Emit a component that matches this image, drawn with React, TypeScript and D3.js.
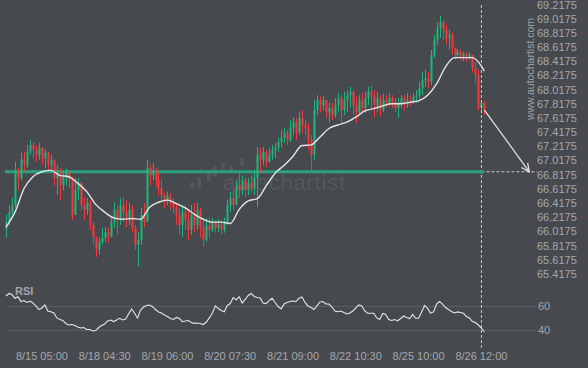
import React from 'react';
import * as d3 from 'd3';

const W = 588;
const H = 368;

const firstOpen = 66.05;

const closes = [
  66.15, 66.29, 66.39, 66.88, 66.77, 67.03, 66.96, 67.14, 67.24, 67.17,
  67.10, 67.20, 67.05, 67.13, 66.96, 67.03, 66.77, 66.88, 66.67, 66.77,
  66.86, 66.74, 66.25, 66.60, 66.70, 66.39, 66.32, 66.42, 66.11, 65.93,
  65.76, 65.87, 65.93, 66.01, 65.95, 66.15, 66.32, 66.18, 66.39, 66.29,
  66.21, 66.32, 66.07, 65.83, 65.90, 66.25, 66.15, 66.91, 66.81, 66.88,
  66.74, 66.63, 66.53, 66.46, 66.52, 66.42, 66.35, 66.25, 66.11, 66.29,
  66.18, 66.04, 66.25, 66.11, 66.32, 66.07, 65.90, 66.11, 66.04, 66.15,
  66.07, 66.12, 66.04, 66.15, 66.39, 66.49, 66.39, 66.67, 66.60, 66.74,
  66.60, 66.70, 66.63, 66.77, 67.10, 67.03, 67.14, 67.00, 67.10, 67.17,
  67.20, 67.28, 67.34, 67.41, 67.31, 67.48, 67.56, 67.42, 67.62, 67.52,
  67.48, 67.31, 67.10, 67.73, 67.87, 67.80, 67.87, 67.70, 67.76, 67.66,
  67.80, 67.90, 67.73, 67.87, 67.94, 67.99, 67.80, 67.70, 67.87, 67.76,
  67.90, 67.99, 67.94, 67.80, 67.90, 67.73, 67.87, 67.83, 67.90, 67.85,
  67.76, 67.83, 67.90, 67.82, 67.87, 67.85, 67.92, 67.94, 68.04, 68.16,
  68.18, 68.13, 68.51, 68.72, 68.89, 68.97, 68.86, 68.75, 68.79, 68.61,
  68.51, 68.55, 68.49, 68.52, 68.48, 68.51, 68.32, 68.23, 67.76, 67.83, 67.73,
];

const highs = [
  66.26, 66.39, 66.49, 67.00, 66.91, 67.13, 67.14, 67.24, 67.31, 67.28,
  67.24, 67.27, 67.17, 67.17, 67.14, 67.10, 67.03, 66.96, 66.91, 66.88,
  66.91, 66.88, 66.79, 66.77, 66.77, 66.72, 66.50, 66.49, 66.46, 66.15,
  65.95, 65.93, 66.07, 66.08, 66.07, 66.21, 66.43, 66.39, 66.49, 66.50,
  66.46, 66.42, 66.39, 66.11, 66.01, 66.35, 66.42, 67.03, 66.96, 66.98,
  66.91, 66.84, 66.74, 66.56, 66.58, 66.56, 66.49, 66.42, 66.35, 66.39,
  66.39, 66.32, 66.39, 66.42, 66.42, 66.35, 66.18, 66.21, 66.22, 66.21,
  66.18, 66.19, 66.18, 66.21, 66.46, 66.58, 66.60, 66.74, 66.84, 66.81,
  66.77, 66.77, 66.81, 66.88, 67.21, 67.20, 67.21, 67.17, 67.20, 67.24,
  67.27, 67.34, 67.45, 67.48, 67.45, 67.59, 67.63, 67.62, 67.70, 67.73,
  67.59, 67.55, 67.38, 67.87, 67.94, 67.92, 67.93, 67.87, 67.83, 67.83,
  67.90, 67.97, 67.94, 67.99, 68.01, 68.06, 68.01, 67.92, 67.94, 67.97,
  67.99, 68.06, 68.08, 68.01, 67.99, 67.94, 67.96, 67.94, 67.97, 67.94,
  67.90, 67.90, 67.94, 67.94, 67.97, 67.94, 67.97, 68.01, 68.13, 68.27,
  68.30, 68.27, 68.58, 68.79, 68.97, 69.06, 69.00, 68.93, 68.86, 68.82,
  68.61, 68.59, 68.58, 68.55, 68.55, 68.55, 68.51, 68.41, 68.30, 67.85, 67.85,
];

const lows = [
  65.93, 66.10, 66.25, 66.35, 66.60, 66.74, 66.86, 66.91, 67.10, 67.05,
  67.00, 67.03, 66.96, 66.91, 66.88, 66.86, 66.67, 66.53, 66.46, 66.60,
  66.67, 66.63, 66.18, 66.36, 66.46, 66.32, 66.18, 66.25, 66.04, 65.83,
  65.66, 65.69, 65.83, 65.87, 65.86, 65.93, 66.07, 65.97, 66.11, 66.15,
  66.08, 66.11, 66.00, 65.76, 65.52, 65.83, 66.08, 66.15, 66.67, 66.74,
  66.65, 66.53, 66.46, 66.35, 66.39, 66.32, 66.28, 66.11, 65.97, 65.94,
  66.04, 65.90, 65.97, 66.01, 66.04, 65.93, 65.80, 65.87, 65.93, 66.01,
  66.00, 66.01, 65.98, 66.00, 66.11, 66.29, 66.32, 66.39, 66.49, 66.53,
  66.50, 66.53, 66.56, 66.53, 66.36, 66.84, 66.96, 66.93, 67.00, 67.03,
  67.05, 67.14, 67.21, 67.27, 67.24, 67.28, 67.38, 67.31, 67.38, 67.41,
  67.38, 67.17, 66.87, 67.03, 67.66, 67.70, 67.73, 67.62, 67.55, 67.59,
  67.62, 67.70, 67.55, 67.66, 67.70, 67.76, 67.66, 67.55, 67.66, 67.69,
  67.69, 67.80, 67.76, 67.63, 67.70, 67.65, 67.70, 67.77, 67.79, 67.76,
  67.70, 67.62, 67.76, 67.73, 67.76, 67.79, 67.82, 67.83, 67.87, 67.94,
  68.06, 68.04, 68.08, 68.47, 68.65, 68.75, 68.72, 68.65, 68.58, 68.51,
  68.44, 68.47, 68.44, 68.42, 68.41, 68.44, 68.27, 68.11, 67.73, 67.72, 67.66,
];

const maIdx = [
  0, 3, 6, 9, 12, 15, 18, 21, 24, 27, 30, 33, 36, 39, 42, 45, 48, 51, 54, 57,
  60, 63, 66, 69, 72, 75, 78, 81, 84, 87, 90, 93, 96, 99, 102, 105, 108, 111,
  114, 117, 120, 123, 126, 129, 132, 135, 138, 141, 144, 147, 150, 153, 156, 159, 160,
];
const maVals = [
  66.08, 66.29, 66.62, 66.79, 66.86, 66.88, 66.81, 66.79, 66.70, 66.58,
  66.40, 66.29, 66.21, 66.19, 66.20, 66.19, 66.36, 66.43, 66.46, 66.41,
  66.35, 66.26, 66.19, 66.15, 66.15, 66.13, 66.33, 66.45, 66.48, 66.66,
  66.84, 66.95, 67.08, 67.23, 67.24, 67.35, 67.47, 67.52, 67.56, 67.63,
  67.72, 67.75, 67.79, 67.82, 67.82, 67.84, 67.86, 67.94, 68.10, 68.34,
  68.47, 68.47, 68.47, 68.35, 68.28,
];

const rsiVals = [
  68.6, 70.7, 69.8, 66.7, 68.0, 64.0, 64.8, 63.2, 64.4, 62.8,
  60.3, 57.3, 58.6, 61.1, 56.1, 55.5, 54.4, 50.3, 49.0, 48.2,
  45.7, 44.4, 44.8, 44.0, 42.8, 41.9, 42.3, 40.7, 40.7, 39.4,
  39.8, 42.3, 44.0, 45.3, 47.8, 48.6, 47.3, 48.6, 50.0, 48.6,
  49.4, 53.6, 57.8, 54.2, 50.3, 56.9, 59.4, 60.7, 61.1, 59.7,
  57.3, 55.3, 54.4, 52.8, 51.5, 49.8, 49.0, 50.7, 49.8, 47.2,
  47.8, 48.2, 46.5, 45.8, 46.1, 45.7, 44.8, 46.9, 50.3, 54.2,
  60.3, 58.2, 56.5, 55.5, 60.7, 62.3, 67.3, 65.3, 68.0, 62.8,
  65.7, 69.0, 70.7, 68.2, 67.3, 66.9, 62.8, 62.3, 64.8, 66.7,
  63.2, 59.8, 57.8, 61.9, 63.2, 64.0, 64.4, 64.0, 66.7, 67.8,
  63.2, 60.3, 59.0, 57.3, 60.3, 63.6, 64.0, 61.9, 61.9, 59.4,
  56.1, 55.5, 56.1, 54.8, 53.6, 54.4, 56.1, 58.6, 61.1, 60.3,
  56.1, 54.2, 54.2, 54.2, 50.3, 49.0, 54.0, 53.2, 49.0, 48.2,
  49.0, 47.8, 49.8, 51.9, 50.7, 49.8, 53.2, 50.0, 50.0, 55.3,
  60.7, 58.2, 54.4, 55.3, 61.9, 64.0, 61.9, 59.0, 57.3, 55.7,
  54.4, 55.3, 54.8, 54.2, 51.5, 50.3, 47.3, 46.5, 44.4, 41.9, 38.6,
];

const xTickIdx = [12, 33, 54, 75, 96, 117, 138, 159];
const xTickLabels = [
  '8/15 05:00', '8/18 04:30', '8/19 06:00', '8/20 07:30',
  '8/21 09:00', '8/22 10:30', '8/25 10:00', '8/26 12:00',
];
const yTicks = [
  69.2175, 69.0175, 68.8175, 68.6175, 68.4175, 68.2175, 68.0175, 67.8175,
  67.6175, 67.4175, 67.2175, 67.0175, 66.8175, 66.6175, 66.4175, 66.2175,
  66.0175, 65.8175, 65.6175, 65.4175,
];
const rsiTicks = [60, 40];

const level = 66.86;
const signalIdx = 159;
const forecastIdx = 175;

const BG = '#46494e';
const UP = '#1fb67c';
const DOWN = '#f5383c';
const TXT = '#a5a8ac';
const FONT = '"Liberation Sans", Arial, sans-serif';

export default function App() {
  const n = closes.length;
  const x = d3.scaleLinear().domain([0, n - 1]).range([6, 6 + (n - 1) * 2.99]);
  const y = d3.scaleLinear().domain([65.4175, 69.2175]).range([274, 4.7]);
  const yr = d3.scaleLinear().domain([40, 60]).range([330.3, 306.3]);

  const candles = closes.map((c, i) => {
    const o = i === 0 ? firstOpen : closes[i - 1];
    const h = Math.max(highs[i], o, c);
    const l = Math.min(lows[i], o, c);
    return { i, o, c, h, l, up: c >= o };
  });

  const maLine = d3
    .line<number>()
    .x((_, k) => x(maIdx[k]))
    .y((v) => y(v))
    .curve(d3.curveMonotoneX)(maVals) as string;

  const rsiLine = d3
    .line<number>()
    .x((_, k) => x(k))
    .y((v) => yr(v))
    .curve(d3.curveLinear)(rsiVals) as string;

  const sx = x(signalIdx);
  const ly = y(level);
  const ax0 = x(n - 1);
  const ay0 = y(closes[n - 1]);
  const ax1 = x(forecastIdx);
  const ay1 = ly;
  const ang = Math.atan2(ay1 - ay0, ax1 - ax0);
  const headLen = 9;
  const spread = 0.45;
  const h1 = [ax1 - headLen * Math.cos(ang - spread), ay1 - headLen * Math.sin(ang - spread)];
  const h2 = [ax1 - headLen * Math.cos(ang + spread), ay1 - headLen * Math.sin(ang + spread)];

  const logoBars = [
    [190, 182, 189],
    [197, 177, 189],
    [207, 170, 181],
    [213, 165, 177],
    [221, 163, 173],
    [229, 165, 172],
    [240, 158, 166],
  ];

  return (
    <svg
      width={W}
      height={H}
      style={{ position: 'absolute', left: 0, top: 0, display: 'block' }}
      fontFamily={FONT}
    >
      <rect x={0} y={0} width={W} height={H} fill={BG} />

      {/* watermark */}
      <g fill="#53575c">
        {logoBars.map(([bx, t, b], k) => (
          <rect key={k} x={bx} y={t} width={4} height={b - t} rx={2} />
        ))}
        <text x={223} y={190} fontSize={22} textLength={122} lengthAdjust="spacing">
          autochartist
        </text>
      </g>

      {/* RSI grid */}
      {rsiTicks.map((t) => (
        <g key={t}>
          <line x1={7} x2={537} y1={yr(t)} y2={yr(t)} stroke="#5d6166" strokeWidth={1} />
          <text x={538} y={yr(t)} dy="0.35em" fontSize={11} fill={TXT}>
            {t}
          </text>
        </g>
      ))}
      <text x={15} y={295} fontSize={11} fontWeight="bold" fill="#a3a6aa">
        RSI
      </text>

      {/* level line */}
      <line x1={5} x2={sx} y1={ly} y2={ly} stroke="#2aa37c" strokeWidth={3} />

      {/* candles */}
      {candles.map((d) => {
        const cx = Math.round(x(d.i));
        const top = y(Math.max(d.o, d.c));
        const bot = y(Math.min(d.o, d.c));
        const col = d.up ? UP : DOWN;
        return (
          <g key={d.i}>
            <rect x={cx} y={y(d.h)} width={1} height={y(d.l) - y(d.h)} fill={col} />
            <rect x={cx - 0.5} y={top} width={2} height={Math.max(1, bot - top)} fill={col} />
          </g>
        );
      })}

      {/* moving average */}
      <path d={maLine} fill="none" stroke="#e4e5e6" strokeWidth={1.4} />

      {/* RSI line */}
      <path d={rsiLine} fill="none" stroke="#e6e7e8" strokeWidth={1.1} />

      {/* signal vertical */}
      <line x1={sx} x2={sx} y1={5} y2={350} stroke="#c9ccd0" strokeWidth={1} strokeDasharray="3,2" />
      {/* target horizontal */}
      <line x1={sx} x2={537} y1={ly} y2={ly} stroke="#c9ccd0" strokeWidth={1} strokeDasharray="3,2" />
      <circle cx={sx} cy={ly} r={2} fill="#2aa37c" />

      {/* forecast arrow */}
      <g stroke="#e8e9ea" strokeWidth={1.2} fill="none">
        <line x1={ax0} y1={ay0} x2={ax1} y2={ay1} />
        <polyline points={`${h1[0]},${h1[1]} ${ax1},${ay1} ${h2[0]},${h2[1]}`} />
      </g>

      {/* price axis */}
      {yTicks.map((t) => (
        <text key={t} x={537} y={y(t)} dy="0.35em" fontSize={11} fill={TXT}>
          {t.toFixed(4)}
        </text>
      ))}

      {/* vertical site text */}
      <text
        transform={`translate(534,69) rotate(-90)`}
        textAnchor="middle"
        fontSize={10.5}
        fill="#9ea1a5"
      >
        www.autochartist.com
      </text>

      {/* time axis */}
      {xTickIdx.map((t, k) => (
        <text key={t} x={x(t)} y={360} textAnchor="middle" fontSize={11} fill={TXT}>
          {xTickLabels[k]}
        </text>
      ))}
    </svg>
  );
}
